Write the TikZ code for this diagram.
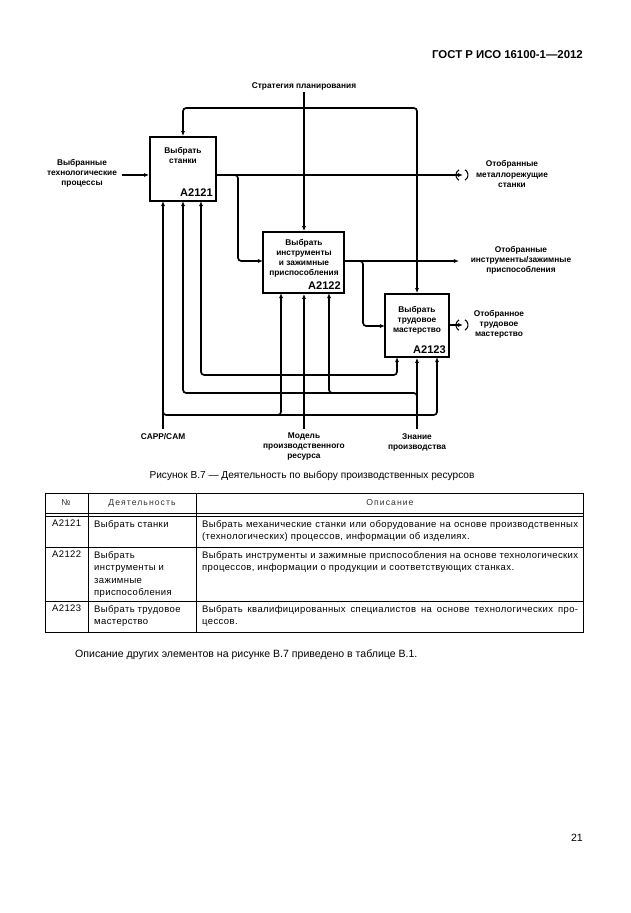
\documentclass[tikz,border=0pt]{standalone}
\usepackage{fontspec}
\setmainfont{Liberation Sans}
\newfontfamily\spacedfont[LetterSpace=12]{Liberation Sans}
\newfontfamily\cellfont[LetterSpace=4]{Liberation Sans}
\usetikzlibrary{arrows.meta,fit}
\begin{document}
\begin{tikzpicture}[x=0.33333mm,y=-0.33333mm,
  flow/.style={line width=1.6pt, -{Latex[length=4.8pt,width=3.8pt]}},
  tunnel/.style={line width=1pt},
  box/.style={draw, line width=1.6pt, inner sep=0pt},
  lbl/.style={font=\fontsize{7.9}{9.5}\selectfont\bfseries, align=center, inner sep=0pt},
  code/.style={font=\fontsize{10.5}{10.5}\selectfont\bfseries, inner sep=0pt, anchor=south east},
  rc/.style={rounded corners=3pt},
  tbl/.style={line width=0.6pt},
  cell/.style={font=\fontsize{9}{11.9}\selectfont\cellfont, inner sep=0pt, anchor=north west, align=left},
  para/.style={font=\fontsize{9}{11.9}\selectfont\cellfont, inner sep=0pt, anchor=north west, align=justify, text width=125.3mm},
  head/.style={font=\fontsize{8.2}{10}\selectfont\spacedfont, text=black!80, inner sep=0pt},
]
\fill[white] (0,0) rectangle (630,913);
\useasboundingbox (0,0) rectangle (630,913);

% running head
\node[font=\fontsize{10.8}{12}\selectfont\bfseries, anchor=east, inner sep=0pt] (hdr) at (583,55) {ГОСТ Р ИСО 16100-1—2012};

% activity boxes
\node[box, fit={(150,137) (216,201)}] (b1) {};
\node[box, fit={(263,232) (344,293)}] (b2) {};
\node[box, fit={(385,294) (449,357)}] (b3) {};

\node[lbl] (t1) at (183,155) {Выбрать\\станки};
\node[code] (c1) at (213,197) {A2121};
\node[lbl] (t2) at (304,258) {Выбрать\\инструменты\\и зажимные\\приспособления};
\node[code] (c2) at (341,290) {A2122};
\node[lbl] (t3) at (417,320) {Выбрать\\трудовое\\мастерство};
\node[code] (c3) at (446,354) {A2123};

% external labels
\node[lbl] (strat) at (304,86) {Стратегия планирования};
\node[lbl] (inp) at (82,173) {Выбранные\\технологические\\процессы};
\node[lbl] (out1) at (512,174) {Отобранные\\металлорежущие\\станки};
\node[lbl] (out2) at (521,260) {Отобранные\\инструменты/зажимные\\приспособления};
\node[lbl] (out3) at (499,324) {Отобранное\\трудовое\\мастерство};
\node[lbl, anchor=north] (capp) at (163,433) {CAPP/CAM};
\node[lbl, anchor=north] (model) at (304,433) {Модель\\производственного\\ресурса};
\node[lbl, anchor=north] (know) at (417,433) {Знание\\производства};

% named points
\coordinate (sj) at (304,108);
\coordinate (inA) at (122,175);
\coordinate (o1s) at (216,175);
\coordinate (o1e) at (463,175);
\coordinate (j1a) at (228,175);
\coordinate (j1b) at (238,261);
\coordinate (in2) at (263,261);
\coordinate (o2s) at (344,261);
\coordinate (o2e) at (459,261);
\coordinate (j2a) at (353,261);
\coordinate (j2b) at (363,326);
\coordinate (in3) at (385,326);
\coordinate (o3s) at (449,325);
\coordinate (o3e) at (463,325);
\coordinate (m1a) at (163,201);
\coordinate (m1b) at (183,201);
\coordinate (m1c) at (201,201);
\coordinate (m2a) at (281,293);
\coordinate (m2c) at (329,293);
\coordinate (m3a) at (397,357);
\coordinate (m3c) at (437,357);
\coordinate (mj) at (304,375);
\coordinate (kj) at (417,405);
\coordinate (kl) at (183,393);
\coordinate (kb) at (350,393);
\coordinate (cj) at (163,405);
\coordinate (cr) at (437,415);
\coordinate (cb) at (260,415);

% controls
\draw[flow] ([yshift=-2pt]strat.south) -- (strat.south |- b2.north);
\draw[flow, rc] (sj) -| (b1.north);
\draw[flow, rc] (sj) -| (b3.north);

% inputs / outputs
\draw[flow] (inA) -- (inA -| b1.west);
\draw[flow] (o1s) -- (o1e);
\draw[flow, rc] (j1a) -| (j1b) -- (in2);
\draw[flow] (o2s) -- (o2e);
\draw[flow, rc] (j2a) -| (j2b) -- (in3);
\draw[flow] (o3s) -- (o3e);

% tunnels
\draw[tunnel] ([xshift=-1pt]o1e) ++(120:6) arc[start angle=120, end angle=240, radius=6];
\draw[tunnel] ([xshift=-1pt]o1e) ++(-60:6) arc[start angle=-60, end angle=60, radius=6];
\draw[tunnel] ([xshift=-1pt]o3e) ++(120:6) arc[start angle=120, end angle=240, radius=6];
\draw[tunnel] ([xshift=-1pt]o3e) ++(-60:6) arc[start angle=-60, end angle=60, radius=6];

% mechanisms: CAPP/CAM
\draw[flow] ([yshift=4pt]capp.north) -- (m1a);
\draw[flow, rc] (cj) |- (cr) -- (m3c);
\draw[flow, rc] (cb) -| (m2a);
% mechanisms: model
\draw[flow] ([yshift=4pt]model.north) -- (model.north |- b2.south);
\draw[flow, rc] (mj) -| (m1c);
\draw[flow, rc] (mj) -| (m3a);
% mechanisms: knowledge
\draw[flow] ([yshift=4pt]know.north) -- (know.north |- b3.south);
\draw[flow, rc] (kj) |- (kl) -- (m1b);
\draw[flow, rc] (kb) -| (m2c);

% caption
\node[font=\fontsize{9.6}{11}\selectfont, inner sep=0pt] (cap) at (312,476) {Рисунок В.7 — Деятельность по выбору производственных ресурсов};

% table
\draw[tbl] (45,493) rectangle (583,632);
\draw[tbl] (45,513) -- (583,513);
\draw[tbl] (45,516) -- (583,516);
\draw[tbl] (45,547) -- (583,547);
\draw[tbl] (45,601) -- (583,601);
\draw[tbl] (88,493) -- (88,632);
\draw[tbl] (196,493) -- (196,632);

\node[head] (h1) at (66,503) {№};
\node[head] (h2) at (142,503) {Деятельность};
\node[head] (h3) at (390,503) {Описание};

\node[cell] (r1a) at (52,520) {A2121};
\node[cell] (r1b) at (94,520) {Выбрать станки};
\node[para] (r1c) at (202,520) {Выбрать механические станки или оборудование на основе производственных\linebreak (технологических) процессов, информации об изделиях.};

\node[cell] (r2a) at (52,551) {A2122};
\node[cell] (r2b) at (94,551) {Выбрать\\инструменты и\\зажимные\\приспособления};
\node[para] (r2c) at (202,551) {Выбрать инструменты и зажимные приспособления на основе технологических\linebreak процессов, информации о продукции и соответствующих станках.};

\node[cell] (r3a) at (52,605) {A2123};
\node[cell] (r3b) at (94,605) {Выбрать трудовое\\мастерство};
\node[para] (r3c) at (202,605) {Выбрать квалифицированных специалистов на основе технологических про-\linebreak цессов.};

\node[font=\fontsize{10}{12}\selectfont, anchor=west, inner sep=0pt] (note) at (75,655) {Описание других элементов на рисунке В.7 приведено в таблице В.1.};

\node[font=\fontsize{10}{12}\selectfont, anchor=east, inner sep=0pt] (pg) at (583,838) {21};
\end{tikzpicture}
\end{document}
